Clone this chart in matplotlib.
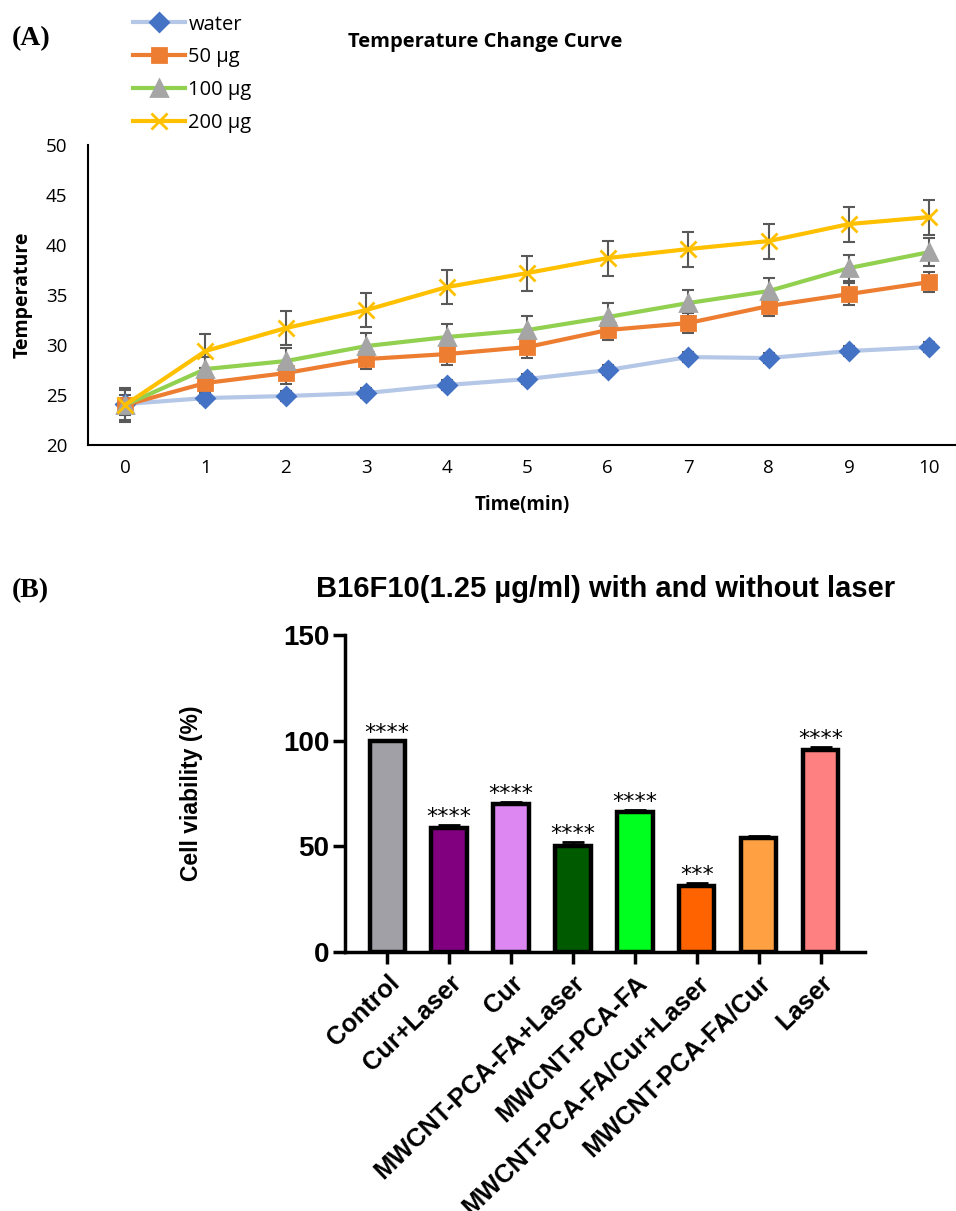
import numpy as np
import matplotlib.pyplot as plt

# ---- panel A data: temperature vs time ----
time_min = np.arange(0, 11)
water = [24.1, 24.7, 24.9, 25.2, 26.0, 26.6, 27.5, 28.8, 28.7, 29.4, 29.8]
water_err = [0.5, 0.5, 0.5, 0.5, 0.5, 0.5, 0.5, 0.5, 0.5, 0.5, 0.5]
ug50 = [24.0, 26.2, 27.2, 28.6, 29.1, 29.8, 31.5, 32.2, 33.9, 35.1, 36.3]
ug50_err = [1.0, 0.9, 1.1, 1.0, 1.1, 1.1, 1.0, 1.0, 1.0, 1.1, 1.0]
ug100 = [24.0, 27.6, 28.4, 29.9, 30.8, 31.5, 32.8, 34.2, 35.4, 37.7, 39.3]
ug100_err = [1.5, 1.2, 1.3, 1.3, 1.3, 1.4, 1.4, 1.3, 1.3, 1.3, 1.4]
ug200 = [24.0, 29.4, 31.7, 33.5, 35.8, 37.2, 38.7, 39.6, 40.4, 42.1, 42.8]
ug200_err = [1.7, 1.7, 1.7, 1.7, 1.7, 1.75, 1.75, 1.75, 1.75, 1.75, 1.75]

# ---- panel B data: cell viability ----
groups = ['Control', 'Cur+Laser', 'Cur', 'MWCNT-PCA-FA+Laser', 'MWCNT-PCA-FA',
          'MWCNT-PCA-FA/Cur+Laser', 'MWCNT-PCA-FA/Cur', 'Laser']
viability = [100, 58.5, 70, 50, 66, 31, 54, 95.5]
viability_err = [0, 1.5, 1.0, 2.0, 1.0, 1.5, 0.8, 1.5]
stars = ['****', '****', '****', '****', '****', '***', '', '****']
bar_colors = ['#A0A0A6', '#800080', '#DD88F2', '#005A00', '#00FF1E',
              '#FF6300', '#FFA143', '#FF8080']

fig = plt.figure(figsize=(9.56, 12.11), dpi=100)

# ================= (A) =================
ax1 = fig.add_axes([0.092, 0.6325, 0.908, 0.2477])
series = [
    ('water', water, water_err, '#B4C7E7', '#4472C4', 'D', 9),
    ('50 µg', ug50, ug50_err, '#ED7D31', '#ED7D31', 's', 10),
    ('100 µg', ug100, ug100_err, '#92D050', '#A5A5A5', '^', 11),
    ('200 µg', ug200, ug200_err, '#FFC000', '#FFC000', 'x', 11),
]
handles = []
for name, y, e, lc, mc, mk, ms in series:
    ax1.errorbar(time_min, y, yerr=e, fmt='none', ecolor='#595959',
                 elinewidth=1.5, capsize=4, capthick=1.5, zorder=2)
    h, = ax1.plot(time_min, y, color=lc, lw=3, marker=mk, ms=ms,
                  markerfacecolor=mc, markeredgecolor=mc, mew=2, label=name,
                  zorder=3)
    handles.append(h)

ax1.set_xlim(-0.46, 10.33)
ax1.set_ylim(20, 50)
ax1.set_xticks(time_min)
ax1.set_yticks(range(20, 51, 5))
ax1.tick_params(length=0, labelsize=13.5)
ax1.tick_params(axis='x', pad=10)
ax1.tick_params(axis='y', pad=15)
for lab in ax1.get_xticklabels() + ax1.get_yticklabels():
    lab.set_family('Open Sans')
ax1.spines['top'].set_visible(False)
ax1.spines['right'].set_visible(False)
ax1.spines['left'].set_linewidth(1.5)
ax1.spines['bottom'].set_linewidth(1.5)
ax1.set_xlabel('Time(min)', fontsize=13.5, fontweight='bold', family='Open Sans', labelpad=13)
ax1.set_ylabel('Temperature', fontsize=14, fontweight='bold', family='Open Sans')
ax1.yaxis.set_label_coords(-0.064, 0.5)

fig.legend(handles=handles, loc='upper left', bbox_to_anchor=(0.139, 0.988),
           frameon=False, prop={'family': 'Open Sans', 'size': 14.5},
           handlelength=2.6, labelspacing=0.64, handletextpad=0.15,
           borderaxespad=0, borderpad=0)
fig.text(0.507, 0.965, 'Temperature Change Curve', ha='center', va='center',
         fontsize=14.5, fontweight='bold', family='Open Sans')
fig.text(0.012, 0.968, '(A)', ha='left', va='center', fontsize=20,
         fontweight='bold', family='Liberation Serif')

# ================= (B) =================
ax2 = fig.add_axes([0.361, 0.2139, 0.544, 0.2618])
xpos = np.arange(len(groups))
ax2.bar(xpos, viability, width=0.57, color=bar_colors, edgecolor='black',
        linewidth=3.2, zorder=2)
ax2.errorbar(xpos, viability, yerr=[np.zeros(len(groups)), viability_err],
             fmt='none', ecolor='black', elinewidth=2, capsize=8, capthick=2,
             zorder=1)
for x, v, e, s in zip(xpos, viability, viability_err, stars):
    if s:
        ax2.text(x, v + e - 1.0, s, ha='center', va='bottom', fontsize=16,
                 family='DejaVu Sans')

ax2.set_xlim(-0.68, 7.72)
ax2.set_ylim(0, 150)
ax2.set_yticks([0, 50, 100, 150])
ax2.set_xticks(xpos)
ax2.set_xticklabels(groups, rotation=44, ha='right', rotation_mode='anchor',
                    fontsize=18.3, fontweight='bold', family='Liberation Sans')
for lab in ax2.get_yticklabels():
    lab.set_fontsize(20)
    lab.set_fontweight('bold')
    lab.set_family('Liberation Sans')
ax2.tick_params(axis='both', length=8.5, width=2.5, direction='out')
ax2.tick_params(axis='y', pad=3)
ax2.tick_params(axis='x', pad=5)
ax2.spines['top'].set_visible(False)
ax2.spines['right'].set_visible(False)
ax2.spines['left'].set_linewidth(2.5)
ax2.spines['bottom'].set_linewidth(2.5)
ax2.set_ylabel('Cell viability (%)', fontsize=16.5, fontweight='bold',
               family='Liberation Sans')
ax2.yaxis.set_label_coords(-0.273, 0.5)
fig.text(0.633, 0.514, 'B16F10(1.25 µg/ml) with and without laser',
         ha='center', va='center', fontsize=21, fontweight='bold',
         family='Liberation Sans')
fig.text(0.012, 0.512, '(B)', ha='left', va='center', fontsize=20,
         fontweight='bold', family='Liberation Serif')

fig.savefig('out.png', dpi=100)
